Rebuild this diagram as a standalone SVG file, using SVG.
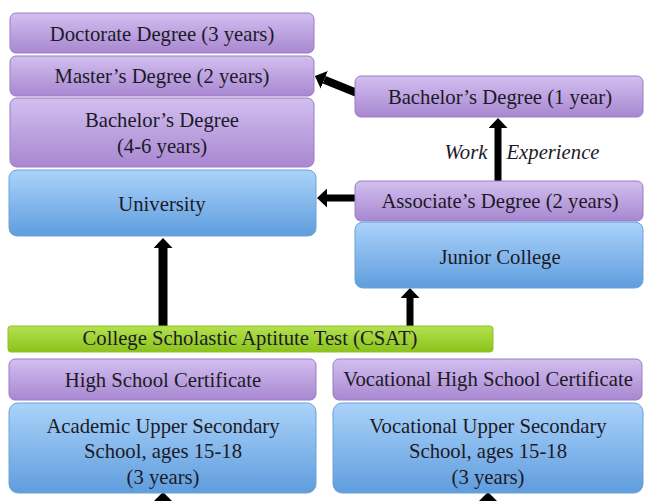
<svg xmlns="http://www.w3.org/2000/svg" width="645" height="501" viewBox="0 0 645 501">
  <defs>
    <linearGradient id="gPurple" x1="0" y1="0" x2="0" y2="1">
      <stop offset="0" stop-color="#d2bff0"/>
      <stop offset="1" stop-color="#a887d0"/>
    </linearGradient>
    <linearGradient id="gBlue" x1="0" y1="0" x2="0" y2="1">
      <stop offset="0" stop-color="#abd3fa"/>
      <stop offset="1" stop-color="#5f9ddd"/>
    </linearGradient>
    <linearGradient id="gGreen" x1="0" y1="0" x2="0" y2="1">
      <stop offset="0" stop-color="#b2e24e"/>
      <stop offset="1" stop-color="#8cc21c"/>
    </linearGradient>
    <marker id="head" markerUnits="userSpaceOnUse" markerWidth="10" markerHeight="19" refX="0" refY="9.5" orient="auto" viewBox="0 0 10 19">
      <path d="M0,0 L10,9.5 L0,19 Z" fill="#000"/>
    </marker>
  </defs>
  <style>
    .purple { fill: url(#gPurple); stroke: #9a7cc4; stroke-width: 1; }
    .blue { fill: url(#gBlue); stroke: #6aa3d8; stroke-width: 1; }
    .green { fill: url(#gGreen); stroke: #8fc126; stroke-width: 1; }
    text { font-family: "Liberation Serif", "DejaVu Serif", serif; font-size: 20.7px; fill: #1c1a28; text-anchor: middle; }
    .it { font-style: italic; }
    .arrow { stroke: #000; stroke-width: 8; fill: none; }
  </style>
  <rect width="645" height="501" fill="#fff"/>

  <g id="connectors">
    <line class="arrow" x1="357" y1="93" x2="324.2" y2="79.8" marker-end="url(#head)"/>
    <line class="arrow" x1="498" y1="181" x2="498" y2="128" style="stroke-width:7" marker-end="url(#head)"/>
    <line class="arrow" x1="356" y1="198" x2="327" y2="198" style="stroke-width:7" marker-end="url(#head)"/>
    <line class="arrow" x1="163" y1="327" x2="163" y2="248" style="stroke-width:9" marker-end="url(#head)"/>
    <line class="arrow" x1="410" y1="326" x2="410" y2="298" style="stroke-width:7" marker-end="url(#head)"/>
    <path d="M154,501 L163,492 L172,501 Z" fill="#000"/>
    <path d="M479,501 L488,492 L497,501 Z" fill="#000"/>
  </g>

  <g id="doctorate">
    <rect class="purple" x="10" y="13" width="304" height="40" rx="6"/>
    <text x="162" y="41">Doctorate Degree (3 years)</text>
  </g>
  <g id="masters">
    <rect class="purple" x="10" y="56" width="304" height="40" rx="6"/>
    <text x="162" y="83">Master’s Degree (2 years)</text>
  </g>
  <g id="bachelors">
    <rect class="purple" x="10" y="98" width="304" height="69" rx="7"/>
    <text x="162" y="127">Bachelor’s Degree</text>
    <text x="162" y="153">(4-6 years)</text>
  </g>
  <g id="university">
    <rect class="blue" x="9" y="170" width="307" height="66" rx="8"/>
    <text x="162" y="211">University</text>
  </g>
  <g id="bachelors-1yr">
    <rect class="purple" x="355" y="76" width="288" height="41" rx="6"/>
    <text x="500" y="104">Bachelor’s Degree (1 year)</text>
  </g>
  <g id="work-experience">
    <text class="it" x="466" y="159">Work</text>
    <text class="it" x="553" y="159">Experience</text>
  </g>
  <g id="associate">
    <rect class="purple" x="355" y="181" width="288" height="40" rx="6"/>
    <text x="500" y="208">Associate’s Degree (2 years)</text>
  </g>
  <g id="junior-college">
    <rect class="blue" x="355" y="222" width="288" height="66" rx="8"/>
    <text x="500" y="264">Junior College</text>
  </g>
  <g id="csat">
    <rect class="green" x="8" y="326" width="485" height="26" rx="3"/>
    <text x="250" y="345">College Scholastic Aptitute Test (CSAT)</text>
  </g>
  <g id="high-school-cert">
    <rect class="purple" x="9" y="359" width="307" height="41" rx="6"/>
    <text x="163" y="387">High School Certificate</text>
  </g>
  <g id="academic-school">
    <rect class="blue" x="9" y="403" width="307" height="90" rx="9"/>
    <text x="163" y="433">Academic Upper Secondary</text>
    <text x="163" y="458">School, ages 15-18</text>
    <text x="163" y="484">(3 years)</text>
  </g>
  <g id="vocational-cert">
    <rect class="purple" x="333" y="359" width="309" height="41" rx="6"/>
    <text x="488" y="386">Vocational High School Certificate</text>
  </g>
  <g id="vocational-school">
    <rect class="blue" x="333" y="403" width="310" height="90" rx="9"/>
    <text x="488" y="433">Vocational  Upper Secondary</text>
    <text x="488" y="458">School, ages 15-18</text>
    <text x="488" y="484">(3 years)</text>
  </g>
</svg>
